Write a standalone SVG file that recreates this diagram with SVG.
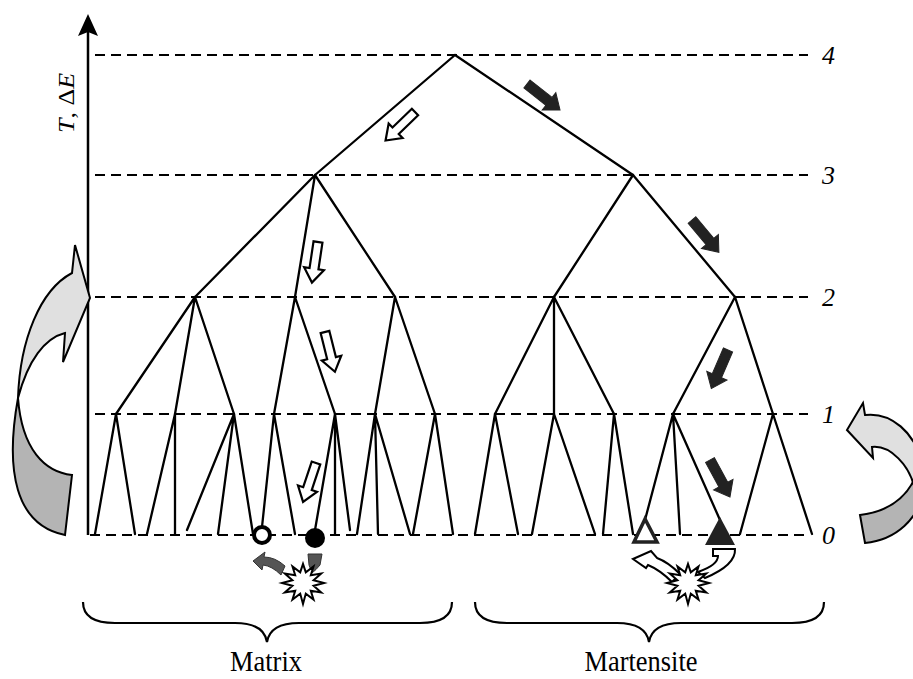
<svg xmlns="http://www.w3.org/2000/svg" width="913" height="679" viewBox="0 0 913 679">
<style>
.dash{stroke:#000;stroke-width:2.2;stroke-dasharray:10 6;fill:none}
.edge{stroke:#000;stroke-width:2.3;fill:none;stroke-linecap:round}
.hollow{fill:#fff;stroke:#000;stroke-width:2.2}
.solid{fill:#222;stroke:#222;stroke-width:1}
.lbl{font-family:"Liberation Serif","Times New Roman",serif;font-size:26px;font-style:italic;fill:#000}
.cap{font-family:"Liberation Serif","Times New Roman",serif;font-size:30px;fill:#000;text-anchor:middle}
.star{fill:#fff;stroke:#000;stroke-width:2;stroke-linejoin:miter}
.brace{fill:none;stroke:#000;stroke-width:2.2}
</style>
<defs>
<path id="arrH" d="M0,-4.5 H27 V-10 L41,0 L27,10 V4.5 H0 Z"/>
<path id="arrF" d="M0,-5 H28 V-11 L42,0 L28,11 V5 H0 Z"/>
<polygon id="starShape" points="21,0 10.6,2.8 18.2,9.5 7.8,7.8 10.5,16.5 2.8,10.6 0,21 -2.8,10.6 -10.5,16.5 -7.8,7.8 -18.2,9.5 -10.6,2.8 -21,0 -10.6,-2.8 -18.2,-9.5 -7.8,-7.8 -10.5,-16.5 -2.8,-10.6 0,-19 2.8,-10.6 10.5,-16.5 7.8,-7.8 18.2,-9.5 10.6,-2.8"/>
</defs>
<rect width="913" height="679" fill="#fff"/>

<g id="axis">
<path d="M88,535 V30" stroke="#000" stroke-width="2.5" fill="none"/>
<path d="M88,14 L98,36 L88,32 L78,36 Z" fill="#000"/>
<text class="lbl" transform="translate(74,103) rotate(-90) scale(1,0.9)" text-anchor="middle" font-size="31">T<tspan font-style="normal">, Δ</tspan>E</text>
</g>

<g id="levels">
<path class="dash" d="M95,55 H808"/>
<path class="dash" d="M95,175 H808"/>
<path class="dash" d="M95,297 H808"/>
<path class="dash" d="M95,414 H808"/>
<path class="dash" d="M90,535 H808"/>
<text class="lbl" x="822" y="64">4</text>
<text class="lbl" x="822" y="184">3</text>
<text class="lbl" x="822" y="306">2</text>
<text class="lbl" x="822" y="423">1</text>
<text class="lbl" x="822" y="544">0</text>
</g>

<g id="connectors">
<path class="edge" d="M455,55 L315,175 M455,55 L633,175"/>
<path class="edge" d="M315,175 L195,297 M315,175 L295,297 M315,175 L395,297 M633,175 L554,297 M633,175 L735,297"/>
<path class="edge" d="M195,297 L116,414 M195,297 L175,414 M195,297 L234,414 M295,297 L274,414 M295,297 L335,414 M395,297 L375,414 M395,297 L435,414"/>
<path class="edge" d="M554,297 L495,414 M554,297 L554,414 M554,297 L614,414 M735,297 L673,414 M735,297 L773,414"/>
<path class="edge" d="M116,414 L95,534 M116,414 L135,534 M175,414 L147,534 M175,414 L175,534 M234,414 L187,530 M234,414 L218,534 M234,414 L253,534"/>
<path class="edge" d="M274,414 L262,527 M274,414 L295,534 M335,414 L315,530 M335,414 L335,534 M335,414 L350,530"/>
<path class="edge" d="M375,414 L357,534 M375,414 L378,534 M375,414 L410,534 M435,414 L413,534 M435,414 L453,534"/>
<path class="edge" d="M495,414 L475,534 M495,414 L518,534 M554,414 L532,534 M554,414 L595,534 M614,414 L603,534 M614,414 L633,534"/>
<path class="edge" d="M673,414 L645,520 M673,414 L680,534 M673,414 L720,520 M773,414 L740,534 M773,414 L812,534"/>
</g>

<g id="hollow-arrows">
<use href="#arrH" class="hollow" transform="translate(415,112) rotate(135.9)"/>
<use href="#arrH" class="hollow" transform="translate(318,242) rotate(98.5)"/>
<use href="#arrH" class="hollow" transform="translate(325,332) rotate(76)"/>
<use href="#arrH" class="hollow" transform="translate(316,463) rotate(108.4)"/>
</g>

<g id="solid-arrows">
<use href="#arrF" class="solid" transform="translate(527,84) rotate(38.2)"/>
<use href="#arrF" class="solid" transform="translate(692,220) rotate(50.2)"/>
<use href="#arrF" class="solid" transform="translate(728,350) rotate(113.4)"/>
<use href="#arrF" class="solid" transform="translate(710,460) rotate(61.6)"/>
</g>

<g id="matrix-markers">
<circle cx="262" cy="535" r="8" fill="#fff" stroke="#000" stroke-width="4"/>
<circle cx="315" cy="538" r="10" fill="#000"/>
<path d="M253,561 L265,552 L264,557 Q275,557 285,566 L281,575 Q272,566 263,565 L262,570 Z" fill="#555" stroke="#333" stroke-width="1"/>
<path d="M308,554 L322,554 L320,565 Q316,570 312,573 L309,565 Z" fill="#555" stroke="#333" stroke-width="1"/>
<use href="#starShape" class="star" transform="translate(303,583)"/>
</g>

<g id="martensite-markers">
<polygon points="645,519 634,542 657,542" fill="#fff" stroke="#222" stroke-width="3.5"/>
<polygon points="720,517 705,545 735,545" fill="#222"/>
<path d="M633,559 L651,551 L657,558 Q668,562 680,574 L672,582 Q660,570 648,565 L646,568 Z" fill="#fff" stroke="#000" stroke-width="2"/>
<path d="M713,549 L735,549 Q736,565 705,578 L698,572 Q718,565 718,556 L713,556 Z" fill="#fff" stroke="#000" stroke-width="2"/>
<use href="#starShape" class="star" transform="translate(688,583)"/>
</g>

<g id="left-cycle">
<path d="M18,398 C5,470 15,525 65,535 L72,475 C45,472 22,450 18,398 Z" fill="#b4b4b4" stroke="#000" stroke-width="2"/>
<path d="M18,398 C20,340 40,290 72,273 L75,245 L90,298 L63,362 L65,333 C45,338 28,360 18,398 Z" fill="#e0e0e0" stroke="#000" stroke-width="2"/>
</g>

<g id="right-cycle">
<path d="M860,515 C885,512 905,500 915,478 L925,485 C920,520 895,540 865,543 Z" fill="#b4b4b4" stroke="#000" stroke-width="2"/>
<path d="M847,430 L863,403 L865,415 C890,412 915,430 925,470 L915,490 C910,465 890,445 872,447 L873,458 Z" fill="#e0e0e0" stroke="#000" stroke-width="2"/>
</g>

<g id="matrix-brace">
<path class="brace" d="M83,602 C83,617 95,623 115,623 L235,623 C255,623 265,630 267,642 C269,630 279,623 299,623 L420,623 C440,623 452,617 452,602"/>
<text class="cap" transform="translate(266,671) scale(0.88,1)">Matrix</text>
</g>

<g id="martensite-brace">
<path class="brace" d="M475,602 C475,617 487,623 507,623 L617,623 C637,623 647,630 649,642 C651,630 661,623 681,623 L792,623 C812,623 824,617 824,602"/>
<text class="cap" transform="translate(641,671) scale(0.88,1)">Martensite</text>
</g>
</svg>
